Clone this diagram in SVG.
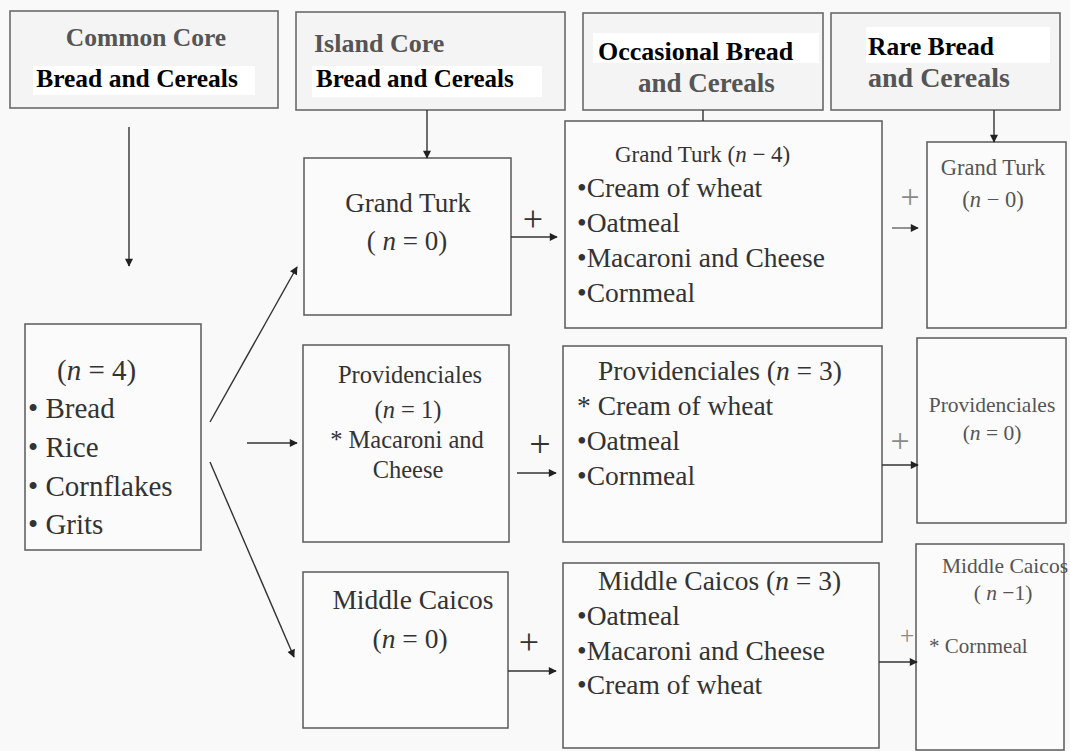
<svg xmlns="http://www.w3.org/2000/svg" width="1070" height="751" viewBox="0 0 1070 751" font-family="'Liberation Serif', 'DejaVu Serif', 'Times New Roman', serif">
<style>
text{font-family:'Liberation Serif','DejaVu Serif','Times New Roman',serif}
.hdr{fill:#f4f4f4;stroke:#6a6a6a;stroke-width:1.6}
.box{fill:#fbfbfb;stroke:#5a5a5a;stroke-width:1.5}
.hl{fill:#ffffff}
.hb{font-weight:bold;fill:#000}
.hg{font-weight:bold;fill:#555}
.t{fill:#333}
.tl{fill:#555}
.pl{fill:#333;text-anchor:middle}
.plg{fill:#8a8a8a;text-anchor:middle}
.c{text-anchor:middle}
.conn line{stroke:#333;stroke-width:1.4;fill:none}
.conn line.a{marker-end:url(#ah)}
.conn line.g{stroke:#666}
</style>
<defs>
<marker id="ah" viewBox="0 0 10 10" refX="9" refY="5" markerWidth="9" markerHeight="8" markerUnits="userSpaceOnUse" orient="auto">
<path d="M0,0 L10,5 L0,10 z" fill="#222"/>
</marker>
</defs>
<rect x="0" y="0" width="1070" height="751" fill="#f9f9f9"/>

<g id="hdr-common">
<rect class="hdr" x="10" y="11" width="268" height="97"/>
<rect class="hl" x="33" y="66" width="222" height="29"/>
<text class="hg c" x="146" y="46" font-size="25.5">Common Core</text>
<text class="hb c" x="137" y="87" font-size="25.5">Bread and Cereals</text>
</g>
<g id="hdr-island">
<rect class="hdr" x="296" y="12" width="269" height="98"/>
<rect class="hl" x="312" y="66" width="230" height="31"/>
<text class="hg" x="314" y="52" font-size="26">Island Core</text>
<text class="hb" x="316" y="87" font-size="25">Bread and Cereals</text>
</g>
<g id="hdr-occasional">
<rect class="hdr" x="583" y="13" width="240" height="97"/>
<rect class="hl" x="593" y="33" width="226" height="30"/>
<text class="hb" x="598" y="60" font-size="26">Occasional Bread</text>
<text class="hg" x="638" y="92" font-size="27">and Cereals</text>
</g>
<g id="hdr-rare">
<rect class="hdr" x="831" y="13" width="229" height="97"/>
<rect class="hl" x="866" y="27" width="184" height="36"/>
<text class="hb" x="868" y="55" font-size="25.5">Rare Bread</text>
<text class="hg" x="868" y="87" font-size="28">and Cereals</text>
</g>

<g id="common-core">
<rect class="box" x="25" y="324" width="176" height="226"/>
<text class="t" x="57" y="380" font-size="29">(<tspan font-style="italic">n</tspan> = 4)</text>
<text class="t" x="28" y="418" font-size="29">• Bread</text>
<text class="t" x="28" y="457" font-size="29">• Rice</text>
<text class="t" x="28" y="496" font-size="29">• Cornflakes</text>
<text class="t" x="28" y="534" font-size="29">• Grits</text>
</g>

<g id="island-grand-turk">
<rect class="box" x="304" y="158" width="207" height="157"/>
<text class="t c" x="408" y="212" font-size="27">Grand Turk</text>
<text class="t c" x="407" y="250" font-size="27">( <tspan font-style="italic">n</tspan> = 0)</text>
</g>
<g id="island-providenciales">
<rect class="box" x="303" y="345" width="206" height="197"/>
<text class="t c" x="410" y="383" font-size="24.5">Providenciales</text>
<text class="t c" x="408" y="418" font-size="24.5">(<tspan font-style="italic">n</tspan> = 1)</text>
<text class="t c" x="407" y="448" font-size="24.5">* Macaroni and</text>
<text class="t c" x="408" y="478" font-size="24.5">Cheese</text>
</g>
<g id="island-middle-caicos">
<rect class="box" x="303" y="572" width="205" height="156"/>
<text class="t c" x="413" y="609" font-size="27.5">Middle Caicos</text>
<text class="t c" x="410" y="648" font-size="27.5">(<tspan font-style="italic">n</tspan> = 0)</text>
</g>

<g id="occ-grand-turk">
<rect class="box" x="565" y="121" width="317" height="207"/>
<text class="t" x="615" y="162" font-size="23">Grand Turk (<tspan font-style="italic">n</tspan> − 4)</text>
<text class="t" x="577" y="197" font-size="27.5">•Cream of wheat</text>
<text class="t" x="577" y="232" font-size="27.5">•Oatmeal</text>
<text class="t" x="577" y="267" font-size="27.5">•Macaroni and Cheese</text>
<text class="t" x="577" y="302" font-size="27.5">•Cornmeal</text>
</g>
<g id="occ-providenciales">
<rect class="box" x="563" y="346" width="319" height="196"/>
<text class="t" x="598" y="380" font-size="27.5">Providenciales (<tspan font-style="italic">n</tspan> = 3)</text>
<text class="t" x="577" y="415" font-size="27.5">* Cream of wheat</text>
<text class="t" x="577" y="450" font-size="27.5">•Oatmeal</text>
<text class="t" x="577" y="485" font-size="27.5">•Cornmeal</text>
</g>
<g id="occ-middle-caicos">
<rect class="box" x="563" y="563" width="316" height="185"/>
<text class="t" x="598" y="590" font-size="27.5">Middle Caicos (<tspan font-style="italic">n</tspan> = 3)</text>
<text class="t" x="577" y="625" font-size="27.5">•Oatmeal</text>
<text class="t" x="577" y="660" font-size="27.5">•Macaroni and Cheese</text>
<text class="t" x="577" y="694" font-size="27.5">•Cream of wheat</text>
</g>

<g id="rare-grand-turk">
<rect class="box" x="927" y="142" width="139" height="186"/>
<text class="tl c" x="993" y="175" font-size="22.5">Grand Turk</text>
<text class="tl c" x="993" y="207" font-size="22.5">(<tspan font-style="italic">n</tspan> − 0)</text>
</g>
<g id="rare-providenciales">
<rect class="box" x="917" y="338" width="149" height="185"/>
<text class="tl c" x="992" y="412" font-size="21.5">Providenciales</text>
<text class="tl c" x="992" y="440" font-size="21.5">(<tspan font-style="italic">n</tspan> = 0)</text>
</g>
<g id="rare-middle-caicos">
<rect class="box" x="916" y="544" width="148" height="206"/>
<text class="tl" x="942" y="573" font-size="21.5">Middle Caicos</text>
<text class="tl c" x="1003" y="600" font-size="21.5">( <tspan font-style="italic">n</tspan> −1)</text>
<text class="tl" x="929" y="653" font-size="21">* Cornmeal</text>
</g>

<g id="plus-signs">
<text class="pl" x="533" y="231" font-size="36">+</text>
<text class="pl" x="540" y="457" font-size="38">+</text>
<text class="pl" x="529" y="654" font-size="36">+</text>
<text class="plg" x="910" y="208" font-size="34">+</text>
<text class="plg" x="900" y="452" font-size="34">+</text>
<text class="plg" x="907" y="644" font-size="26">+</text>
</g>

<g id="connectors" class="conn">
<line class="a" x1="129" y1="127" x2="129" y2="266"/>
<line class="a" x1="427" y1="110" x2="427" y2="158"/>
<line x1="703" y1="110" x2="703" y2="121"/>
<line class="a" x1="994" y1="110" x2="994" y2="142"/>
<line class="a" x1="210" y1="422" x2="297" y2="267"/>
<line class="a" x1="247" y1="443" x2="297" y2="443"/>
<line class="a" x1="210" y1="462" x2="294" y2="657"/>
<line class="a" x1="511" y1="237" x2="557" y2="237"/>
<line class="a" x1="517" y1="473" x2="556" y2="473"/>
<line class="a" x1="508" y1="671" x2="556" y2="671"/>
<line class="a g" x1="892" y1="228" x2="918" y2="228"/>
<line class="a" x1="882" y1="465" x2="918" y2="465"/>
<line class="a" x1="879" y1="662" x2="917" y2="662"/>
</g>
</svg>
